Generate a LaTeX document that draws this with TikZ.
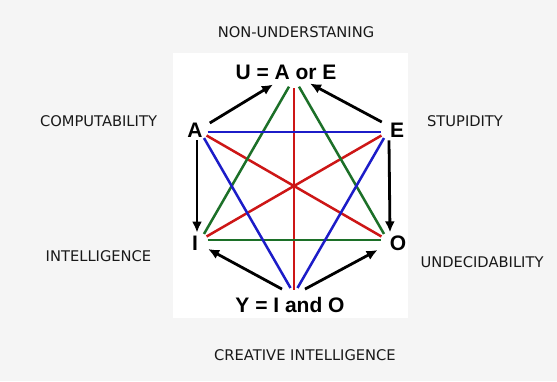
\documentclass[tikz,border=0pt]{standalone}
\usepackage{fontspec}
\setmainfont{DejaVu Sans}
\newfontfamily\vertexfont{Liberation Sans}
\usetikzlibrary{arrows.meta}
\usepackage{xcolor}
\definecolor{bgGray}{RGB}{245,245,245}
\definecolor{lineRed}{RGB}{205,22,22}
\definecolor{lineBlue}{RGB}{28,28,200}
\definecolor{lineGreen}{RGB}{28,112,40}

\begin{document}
\begin{tikzpicture}[
    x=1pt, y=-1pt,
    outer/.style={font=\fontsize{14.7}{17}\selectfont, text=black!90},
    vert/.style={font=\vertexfont\bfseries\fontsize{21}{24}\selectfont, inner sep=3pt},
    link/.style={line width=2.5pt, shorten <=7pt, shorten >=7pt},
    arr/.style={-{Latex[length=11pt,width=10pt]}, line width=2.8pt},
    >=Latex
]
\fill[bgGray] (0,0) rectangle (557,381);
\fill[white] (173,53) rectangle (408,318);
\useasboundingbox (0,0) rectangle (557,381);

% corners of the hexagon
\coordinate (vU) at (294,78);
\coordinate (vA) at (200.5,132);
\coordinate (vE) at (387.5,132);
\coordinate (vI) at (200.5,240);
\coordinate (vO) at (387.5,240);
\coordinate (vY) at (294,294);

\node[vert] (U) at (286,72) {U = A or E};
\node[vert] (A) at (195,130) {A};
\node[vert] (E) at (397,130) {E};
\node[vert] (I) at (195,243) {I};
\node[vert] (O) at (398,243) {O};
\node[vert] (Y) at (290,305) {Y = I and O};

\node[outer] (nonund) at (296,32) {NON-UNDERSTANING};
\node[outer] (comput) at (98.5,121) {COMPUTABILITY};
\node[outer] (stupid) at (465,121) {STUPIDITY};
\node[outer] (intell) at (98.5,256) {INTELLIGENCE};
\node[outer] (undec) at (482,262) {UNDECIDABILITY};
\node[outer] (creat) at (305,355) {CREATIVE INTELLIGENCE};

\draw[link, lineRed, shorten <=10pt, shorten >=4pt] (vU) -- (vY);
\draw[link, lineRed] (vA) -- (vO);
\draw[link, lineRed] (vE) -- (vI);
\draw[link, lineGreen, shorten <=10pt] (vU) -- (vI);
\draw[link, lineGreen, shorten <=10pt] (vU) -- (vO);
\draw[link, lineGreen] (vI) -- (vO);
\draw[link, lineBlue] (vA) -- (vE);
\draw[link, lineBlue] (vA) -- (vY);
\draw[link, lineBlue] (vE) -- (vY);

\draw[arr] ([xshift=4pt,yshift=7pt]A.east) -- ([xshift=-13pt,yshift=-2pt]U.south);
\draw[arr] ([xshift=-5pt,yshift=8pt]E.west) -- ([xshift=24pt,yshift=-1pt]U.south);
\draw[arr] ([xshift=2pt]A.south) -- ([xshift=2pt]I.north);
\draw[arr] ([xshift=-8pt]E.south) -- ([xshift=-8pt]O.north);
\draw[arr] ([xshift=-8pt,yshift=5pt]Y.north) -- ([xshift=7pt,yshift=-6pt]I.east);
\draw[arr] ([xshift=15pt,yshift=5pt]Y.north) -- ([xshift=-9pt,yshift=-7pt]O.west);
\end{tikzpicture}
\end{document}
